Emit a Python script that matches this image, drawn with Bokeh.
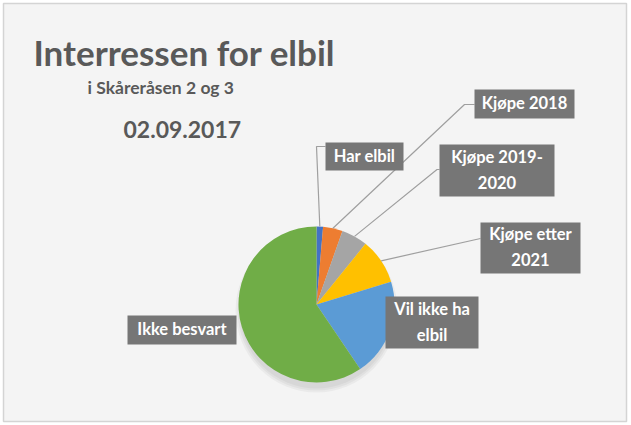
import numpy as np
from bokeh.plotting import figure
from bokeh.models import Range1d, ColumnDataSource
from bokeh.core.properties import value
from bokeh.embed import file_html
from bokeh.resources import INLINE

# ---- data ----
categories = ["Har elbil", "Kjøpe 2018", "Kjøpe 2019-\n2020", "Kjøpe etter\n2021",
              "Vil ikke ha\nelbil", "Ikke besvart"]
counts = [1, 3, 4, 7, 15, 44]
slice_colors = ["#4472C4", "#ED7D31", "#A5A5A5", "#FFC000", "#5B9BD5", "#70AD47"]
title_text = "Interressen for elbil"
subtitle_text = "i Skåreråsen 2 og 3"
date_text = "02.09.2017"

W, H = 631, 425
def Y(py):
    return H - py

p = figure(width=W, height=H, x_range=Range1d(0, W), y_range=Range1d(0, H),
           output_backend="svg", toolbar_location=None, min_border=0,
           background_fill_color="white", border_fill_color="white", outline_line_color=None)
p.axis.visible = False
p.grid.visible = False

# chart area background with border
p.quad(left=3, right=626, bottom=Y(421), top=Y(3), fill_color="#f4f4f4",
       line_color="#d4d4d4", line_width=1.5)

# pie
cx, cy, r = 316, Y(304), 78
vals = np.array(counts, dtype=float)
frac = vals / vals.sum()
cum = np.concatenate([[0], np.cumsum(frac)])
start = np.pi / 2 - 2 * np.pi * cum[:-1]
end = np.pi / 2 - 2 * np.pi * cum[1:]
mid = (start + end) / 2

# soft shadow
for k in range(3):
    p.ellipse(x=cx, y=cy - 6, width=2 * r + 6 - 4 * k, height=2 * r + 8 - 4 * k,
              fill_color="#000000", fill_alpha=0.04, line_color=None)

src = ColumnDataSource(dict(start=start, end=end, color=slice_colors, cat=categories))
p.wedge(x=cx, y=cy, radius=r, start_angle="start", end_angle="end", direction="clock",
        fill_color="color", line_color=None, source=src)

# leader lines: from slice edge midpoint to label box
ex = cx + r * np.cos(mid)
ey = cy + r * np.sin(mid)
elbows = [[(316, Y(146)), (325, Y(146))],
          [(464, Y(104)), (474, Y(104))],
          [(436.5, Y(169)), (439, Y(169))],
          [(480, Y(238))],
          None, None]
for i, e in enumerate(elbows):
    if e is None:
        continue
    xs = [ex[i]] + [pt[0] for pt in e]
    ys = [ey[i]] + [pt[1] for pt in e]
    p.line(xs, ys, line_color="#9f9f9f", line_width=1.2)

# label boxes (layout): left, right, top, bottom in pixel coords
boxes = [(325, 403, 142, 170),
         (474, 574, 89, 118),
         (439, 554, 144, 196),
         (480, 580, 222, 273),
         (385, 478, 296, 348),
         (127, 236, 315, 344)]
bl = [b[0] for b in boxes]
br = [b[1] for b in boxes]
bt = [Y(b[2]) for b in boxes]
bb = [Y(b[3]) for b in boxes]
p.quad(left=bl, right=br, top=bt, bottom=bb, fill_color="#767676", line_color=None)
lx = [(a + b) / 2 for a, b in zip(bl, br)]
ly = [(a + b) / 2 + 1 for a, b in zip(bt, bb)]
p.text(x=lx, y=ly, text=categories, text_color="white", text_font=value("Lato"),
       text_font_style="bold", text_font_size="16.5px", text_align="center",
       text_baseline="middle", text_line_height=1.3)

# titles
p.text(x=[33], y=[Y(51)], text=[title_text], text_color="#595959",
       text_font=value("Lato"), text_font_style="bold", text_font_size="35px",
       text_align="left", text_baseline="alphabetic")
p.text(x=[87], y=[Y(87)], text=[subtitle_text], text_color="#595959",
       text_font=value("Lato"), text_font_style="bold", text_font_size="17.5px",
       text_align="left", text_baseline="alphabetic")
p.text(x=[123], y=[Y(129)], text=[date_text], text_color="#595959",
       text_font=value("Lato"), text_font_style="bold", text_font_size="23px",
       text_align="left", text_baseline="alphabetic")

open("out.html", "w").write(file_html(p, INLINE))
